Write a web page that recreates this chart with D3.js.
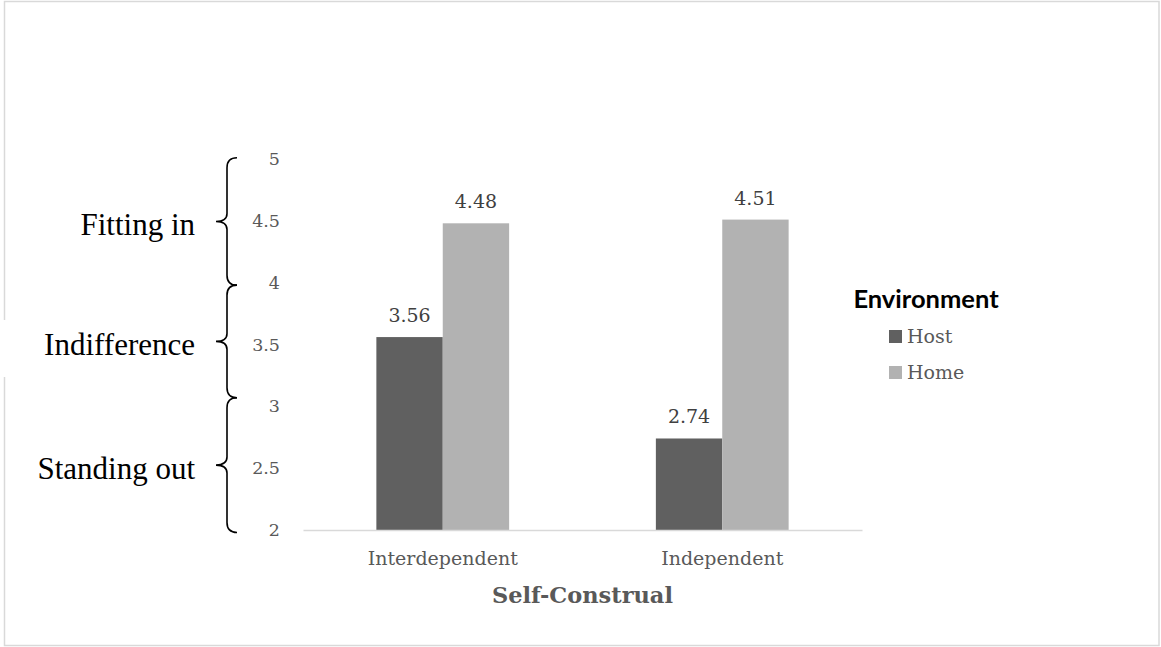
<!DOCTYPE html>
<html>
<head>
<meta charset="utf-8">
<script src="https://cdn.jsdelivr.net/npm/d3@7"></script>
<style>
  html, body { margin: 0; padding: 0; background: #fff; }
  svg { display: block; }
</style>
</head>
<body>
<svg id="chart" width="1161" height="647"></svg>
<script>
// Self-construal categories and mean scores per environment
const categories = ["Interdependent", "Independent"];
const seriesNames = ["Host", "Home"];
const hostValues = [3.56, 2.74];
const homeValues = [4.48, 4.51];
const yTicks = [2, 2.5, 3, 3.5, 4, 4.5, 5];

// Bracketed interpretation zones along the value axis [top, bottom]
const zoneLabels = ["Fitting in", "Indifference", "Standing out"];
const zoneRanges = [[5.01, 3.98], [3.98, 3.07], [3.07, 1.98]];

const colors = { Host: "#606060", Home: "#b2b2b2" };
const grayText = "#595959";

const svg = d3.select("#chart");

// outer frame
svg.append("rect")
  .attr("x", 4.5).attr("y", 1.5)
  .attr("width", 1154.5).attr("height", 644)
  .attr("fill", "#fff")
  .attr("stroke", "#d9d9d9").attr("stroke-width", 1.5);

// white text box behind the middle zone label
svg.append("rect")
  .attr("x", 0).attr("y", 320).attr("width", 200).attr("height", 57)
  .attr("fill", "#fff");

const plot = { left: 303, right: 862, top: 159, bottom: 530 };

const x = d3.scaleBand()
  .domain(categories)
  .range([plot.left, plot.right])
  .paddingInner(0)
  .paddingOuter(0);

const groupWidth = x.bandwidth() * 0.475;
const xInner = d3.scaleBand()
  .domain(seriesNames)
  .range([0, groupWidth]);

const y = d3.scaleLinear().domain([2, 5]).range([plot.bottom, plot.top]);

// rows of data for drawing
const rows = categories.map((c, i) => ({
  category: c,
  values: [
    { series: "Host", value: hostValues[i] },
    { series: "Home", value: homeValues[i] }
  ]
}));

// bars
const groups = svg.append("g").selectAll("g")
  .data(rows)
  .join("g")
  .attr("transform", d => `translate(${x(d.category) + (x.bandwidth() - groupWidth) / 2},0)`);

groups.selectAll("rect")
  .data(d => d.values)
  .join("rect")
  .attr("x", d => xInner(d.series))
  .attr("y", d => y(d.value))
  .attr("width", xInner.bandwidth())
  .attr("height", d => y(2) - y(d.value))
  .attr("fill", d => colors[d.series]);

// value labels
groups.selectAll("text.value")
  .data(d => d.values)
  .join("text")
  .attr("class", "value")
  .attr("x", d => xInner(d.series) + xInner.bandwidth() / 2)
  .attr("y", d => y(d.value) - 15)
  .attr("text-anchor", "middle")
  .attr("font-family", "'DejaVu Serif', serif")
  .attr("font-size", 19)
  .attr("fill", "#404040")
  .text(d => d.value.toFixed(2));

// category axis
const xAxis = svg.append("g")
  .attr("transform", `translate(0,${plot.bottom})`)
  .call(d3.axisBottom(x).tickSize(0).tickPadding(22));
xAxis.select(".domain").attr("stroke", "#d9d9d9").attr("stroke-width", 1.5);
xAxis.selectAll("text")
  .attr("font-family", "'DejaVu Serif', serif")
  .attr("font-size", 19)
  .attr("fill", grayText);

// value axis (labels only)
const yAxis = svg.append("g")
  .attr("transform", `translate(${plot.left},0)`)
  .call(d3.axisLeft(y).tickValues(yTicks).tickSize(0).tickPadding(23)
    .tickFormat(d3.format("")));
yAxis.select(".domain").remove();
yAxis.selectAll("text")
  .attr("font-family", "'DejaVu Serif', serif")
  .attr("font-size", 17.5)
  .attr("fill", grayText);

// axis title
svg.append("text")
  .attr("x", (plot.left + plot.right) / 2)
  .attr("y", 603)
  .attr("text-anchor", "middle")
  .attr("font-family", "'DejaVu Serif', serif")
  .attr("font-weight", "bold")
  .attr("font-size", 22.5)
  .attr("fill", grayText)
  .text("Self-Construal");

// curly braces marking the zones
function bracePath(yTop, yBot) {
  const xe = 237, xs = 227, xt = 216;
  const ym = (yTop + yBot) / 2;
  const p = d3.path();
  p.moveTo(xe, yTop);
  p.quadraticCurveTo(xs, yTop, xs, yTop + 10);
  p.lineTo(xs, ym - 8);
  p.quadraticCurveTo(xs, ym, xt, ym);
  p.quadraticCurveTo(xs, ym, xs, ym + 8);
  p.lineTo(xs, yBot - 10);
  p.quadraticCurveTo(xs, yBot, xe, yBot);
  return p.toString();
}

const zones = zoneLabels.map((label, i) => ({ label, top: zoneRanges[i][0], bottom: zoneRanges[i][1] }));

svg.append("g").selectAll("path")
  .data(zones)
  .join("path")
  .attr("d", d => bracePath(y(d.top), y(d.bottom)))
  .attr("fill", "none")
  .attr("stroke", "#000")
  .attr("stroke-width", 1.6);

svg.append("g").selectAll("text")
  .data(zones)
  .join("text")
  .attr("x", 195)
  .attr("y", d => (y(d.top) + y(d.bottom)) / 2)
  .attr("dy", "0.45em")
  .attr("text-anchor", "end")
  .attr("font-family", "'Liberation Serif', 'Times New Roman', serif")
  .attr("font-size", 31)
  .attr("fill", "#000")
  .text(d => d.label);

// legend
const legend = svg.append("g");
legend.append("text")
  .attr("x", 926)
  .attr("y", 308)
  .attr("text-anchor", "middle")
  .attr("font-family", "Lato, 'Open Sans', sans-serif")
  .attr("font-weight", "bold")
  .attr("font-size", 25.5)
  .attr("fill", "#000")
  .text("Environment");

const legendItems = legend.selectAll("g.item")
  .data(seriesNames)
  .join("g")
  .attr("class", "item")
  .attr("transform", (d, i) => `translate(889,${330 + i * 36})`);

legendItems.append("rect")
  .attr("width", 13).attr("height", 13)
  .attr("fill", d => colors[d]);

legendItems.append("text")
  .attr("x", 18)
  .attr("y", 13)
  .attr("font-family", "'DejaVu Serif', serif")
  .attr("font-size", 19)
  .attr("fill", grayText)
  .text(d => d);
</script>
</body>
</html>
